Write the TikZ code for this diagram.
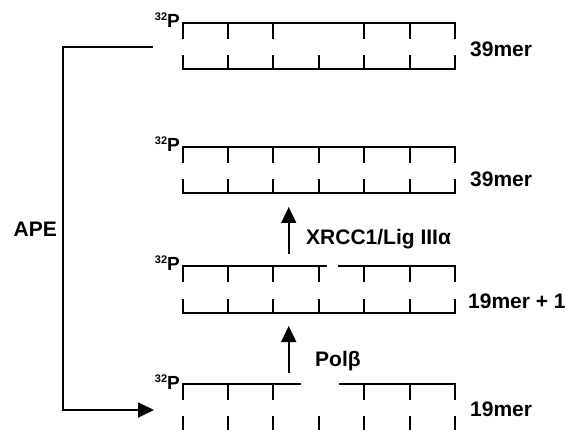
\documentclass[tikz,border=0pt]{standalone}
\usepackage{fontspec}
\setmainfont{Liberation Sans}
\usetikzlibrary{arrows.meta}
\begin{document}
\begin{tikzpicture}[x=1pt,y=-1pt,
  strand/.style={line width=2pt},
  lab/.style={font=\fontsize{21}{24}\selectfont\bfseries, anchor=base west, inner sep=0pt},
  plab/.style={font=\fontsize{19}{21}\selectfont\bfseries, anchor=base east, inner sep=0pt},
  arr/.style={line width=1.8pt, -{Triangle[length=16pt,width=15pt]}}]
\useasboundingbox (0,0) rectangle (567,430);
\newcommand\ppl{{\fontsize{11}{12}\selectfont\raisebox{7pt}{32}}P}
% duplex 1 (39mer, top)
\draw[strand] (182.5,39.5) -- (182.5,23.5) -- (455,23.5) -- (455,39.5);
\foreach \k in {1,2,4,5} \draw[strand] ({182.5+45.4*\k},23.5) -- ({182.5+45.4*\k},39.5);
\draw[strand] (182.5,55) -- (182.5,69.5) -- (455,69.5) -- (455,55);
\foreach \k in {1,...,5} \draw[strand] ({182.5+45.4*\k},55) -- ({182.5+45.4*\k},69.5);
\node[plab] (p1) at (180,28) {\ppl};
\node[lab] (l1) at (470,56.5) {39mer};
% duplex 2 (39mer)
\draw[strand] (182.5,163) -- (182.5,147.3) -- (455,147.3) -- (455,163);
\foreach \k in {1,...,5} \draw[strand] ({182.5+45.4*\k},147.3) -- ({182.5+45.4*\k},163);
\draw[strand] (182.5,179) -- (182.5,193.3) -- (455,193.3) -- (455,179);
\foreach \k in {1,...,5} \draw[strand] ({182.5+45.4*\k},179) -- ({182.5+45.4*\k},193.3);
\node[plab] (p2) at (180,152) {\ppl};
\node[lab] (l2) at (470,186.5) {39mer};
% duplex 3 (19mer + 1)
\draw[strand] (182.5,281.5) -- (182.5,265.5) -- (327,265.5);
\draw[strand] (338,265.5) -- (455,265.5) -- (455,281.5);
\foreach \k in {1,...,5} \draw[strand] ({182.5+45.4*\k},265.5) -- ({182.5+45.4*\k},281.5);
\draw[strand] (182.5,299) -- (182.5,313.3) -- (455,313.3) -- (455,299);
\foreach \k in {1,...,5} \draw[strand] ({182.5+45.4*\k},299) -- ({182.5+45.4*\k},313.3);
\node[plab] (p3) at (180,270) {\ppl};
\node[lab] (l3) at (468,308) {19mer + 1};
% duplex 4 (19mer)
\draw[strand] (182.5,399.5) -- (182.5,384.3) -- (301,384.3);
\draw[strand] (339,384.3) -- (455,384.3) -- (455,399.5);
\foreach \k in {1,2,4,5} \draw[strand] ({182.5+45.4*\k},384.3) -- ({182.5+45.4*\k},399.5);
\foreach \k in {0,...,6} \draw[strand] ({182.5+45.4*\k},416) -- ({182.5+45.4*\k},432);
\node[plab] (p4) at (180,389) {\ppl};
\node[lab] (l4) at (470,416) {19mer};
% enzyme arrows
\coordinate (a1s) at (288.7,372.7);
\coordinate (a1e) at (288.7,326);
\draw[arr] (a1s) -- (a1e);
\node[lab] (pol) at (315,366) {Polβ};
\coordinate (a2s) at (288.7,253.5);
\coordinate (a2e) at (288.7,207);
\draw[arr] (a2s) -- (a2e);
\node[lab] (xr) at (306,244) {XRCC1/Lig IIIα};
% APE bracket
\coordinate (b0) at (152.7,46.7);
\coordinate (b1) at (62.7,46.7);
\coordinate (b2) at (62.7,410);
\coordinate (b3) at (154,410);
\draw[arr] (b0) -- (b1) -- (b2) -- (b3);
\node[font=\fontsize{21}{24}\selectfont\bfseries, anchor=base east, inner sep=0pt] (ape) at (57,236.5) {APE};
\end{tikzpicture}
\end{document}
